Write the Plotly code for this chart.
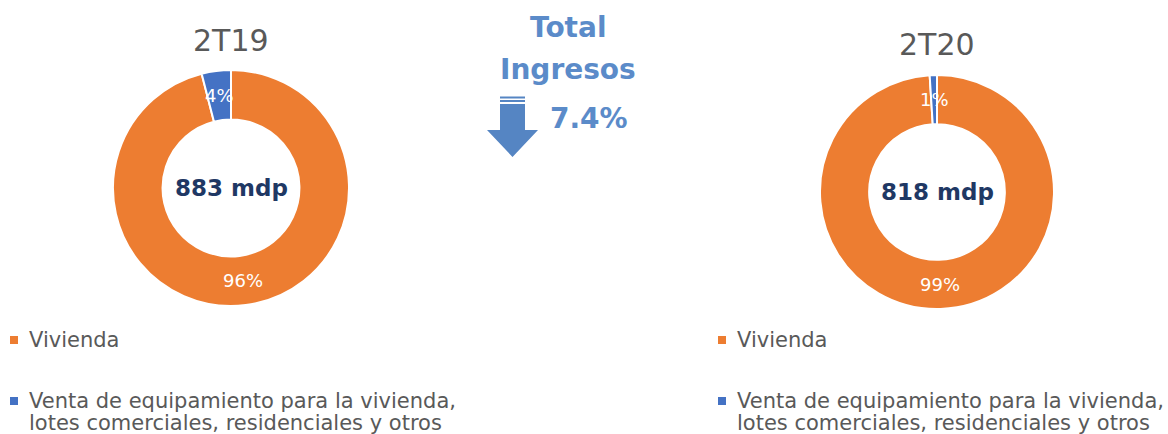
import math
import plotly.graph_objects as go

# ── Data ──────────────────────────────────────────────────────────────────
labels = ["Vivienda", "Venta de equipamiento para la vivienda, lotes comerciales, residenciales y otros"]
periods = ["2T19", "2T20"]
values_2t19 = [96, 4]
values_2t20 = [99, 1]
text_2t19 = ["96%", "4%"]
text_2t20 = ["99%", "1%"]
totals = ["883 mdp", "818 mdp"]
legend_lines = ["Vivienda", "Venta de equipamiento para la vivienda,", "lotes comerciales, residenciales y otros"]
headline = ["Total", "Ingresos"]
change_label = "7.4%"

PALETTE = {
    "orange": "#ED7D31",
    "blue": "#4472C4",
    "title": "#595959",
    "navy": "#1F3864",
    "accent": "#5B8BC9",
    "arrow": "#5585C3",
}
FONT = "DejaVu Sans, sans-serif"
W, H = 1168, 434
HOLE = 0.58

# pie boxes in pixels: (x0, x1, y0_top, y1_top)
boxes = [(113, 349, 70, 306), (820, 1054, 74, 310)]


def _domain(box):
    x0, x1, t0, t1 = box
    return dict(x=[x0 / W, x1 / W], y=[1 - t1 / H, 1 - t0 / H])


def _text(text, x, y, size, color, xanchor="center", bold=False):
    return dict(
        text=f"<b>{text}</b>" if bold else text,
        x=x / W, y=1 - y / H, xref="paper", yref="paper",
        xanchor=xanchor, yanchor="middle", showarrow=False,
        font=dict(size=size, color=color, family=FONT),
    )


def _px(x, y):
    return f"{x / W},{1 - y / H}"


def _rect(x0, y0, x1, y1, color):
    return dict(type="rect", x0=x0 / W, x1=x1 / W, y0=1 - y1 / H, y1=1 - y0 / H,
                xref="paper", yref="paper", fillcolor=color, line=dict(width=0))


fig = go.Figure()
annotations = []
shapes = []
series = [(values_2t19, text_2t19), (values_2t20, text_2t20)]

for i, (vals, txt) in enumerate(series):
    box = boxes[i]
    fig.add_trace(go.Pie(
        labels=labels, values=vals, hole=HOLE, sort=False,
        direction="clockwise", rotation=0,
        marker=dict(colors=[PALETTE["orange"], PALETTE["blue"]], line=dict(color="white", width=2)),
        textinfo="none", domain=_domain(box), showlegend=False,
        hovertemplate="%{label}<br>%{percent}<extra></extra>",
    ))
    cx = (box[0] + box[1]) / 2
    cy = (box[2] + box[3]) / 2
    r_out = (box[1] - box[0]) / 2
    r_mid = r_out * (1 + HOLE) / 2
    total = sum(vals)
    cum = 0
    for v, t in zip(vals, txt):
        mid = (cum + v / 2) / total * 2 * math.pi
        cum += v
        annotations.append(_text(t, cx + r_mid * math.sin(mid), cy - r_mid * math.cos(mid), 18, "white"))
    annotations.append(_text(totals[i], cx, cy, 23, PALETTE["navy"], bold=True))
    annotations.append(_text(periods[i], cx, box[2] - 29, 30, PALETTE["title"]))

# legends drawn as text blocks under each donut
for lx in (10, 718):
    shapes += [_rect(lx, 336, lx + 8, 344, PALETTE["orange"]),
               _rect(lx, 397, lx + 8, 405, PALETTE["blue"])]
    annotations += [
        _text(legend_lines[0], lx + 17, 340, 21, PALETTE["title"], xanchor="left"),
        _text(legend_lines[1], lx + 17, 401, 21, PALETTE["title"], xanchor="left"),
        _text(legend_lines[2], lx + 17, 423, 21, PALETTE["title"], xanchor="left"),
    ]

# headline
annotations += [
    _text(headline[0], 568, 28, 28, PALETTE["accent"], bold=True),
    _text(headline[1], 568, 70, 28, PALETTE["accent"], bold=True),
    _text(change_label, 548, 119, 28, PALETTE["accent"], xanchor="left", bold=True),
]

# down arrow with stripes
arrow = f"M {_px(500, 104)} L {_px(525, 104)} L {_px(525, 130)} L {_px(538, 130)} L {_px(512.5, 157)} " \
        f"L {_px(487, 130)} L {_px(500, 130)} Z"
shapes += [
    dict(type="path", path=arrow, xref="paper", yref="paper",
         fillcolor=PALETTE["arrow"], line=dict(width=0)),
    _rect(500, 96.5, 525, 98.5, PALETTE["arrow"]),
    _rect(500, 100, 525, 102, PALETTE["arrow"]),
]

fig.update_layout(
    width=W, height=H,
    margin=dict(l=0, r=0, t=0, b=0),
    paper_bgcolor="white", plot_bgcolor="white",
    font=dict(family=FONT, color=PALETTE["title"]),
    annotations=annotations, shapes=shapes,
)

fig.write_html("out.html", config={"displayModeBar": False},
               post_script="document.body.style.margin='0';")
